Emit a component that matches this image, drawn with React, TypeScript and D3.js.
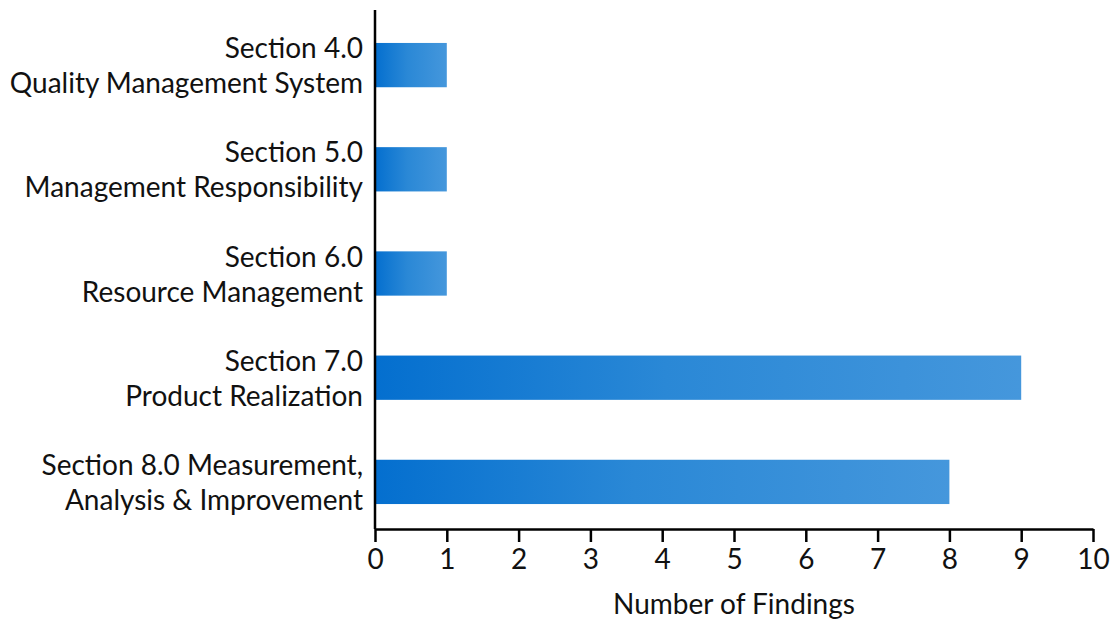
import React, { useEffect, useRef } from "react"
import * as d3 from "d3"

const categories: string[][] = [
  ["Section 4.0", "Quality Management System"],
  ["Section 5.0", "Management Responsibility"],
  ["Section 6.0", "Resource Management"],
  ["Section 7.0", "Product Realization"],
  ["Section 8.0 Measurement,", "Analysis & Improvement"],
]
const findings: number[] = [1, 1, 1, 9, 8]
const xTicks: number[] = [0, 1, 2, 3, 4, 5, 6, 7, 8, 9, 10]

const FONT = "Lato, 'Open Sans', sans-serif"

export default function App() {
  const ref = useRef<SVGSVGElement>(null)

  useEffect(() => {
    if (!ref.current) return
    const svg = d3.select(ref.current)
    svg.selectAll("*").remove()

    const x = d3.scaleLinear().domain([0, 10]).range([375, 1093])
    const y = d3
      .scaleBand<number>()
      .domain(d3.range(categories.length))
      .range([13, 534])
      .paddingInner(0.575)
      .paddingOuter(0.2875)

    const axisY = 529

    const defs = svg.append("defs")
    const grad = defs
      .append("linearGradient")
      .attr("id", "barGrad")
      .attr("x1", "0%")
      .attr("x2", "100%")
      .attr("y1", "0%")
      .attr("y2", "0%")
    grad.append("stop").attr("offset", "0%").attr("stop-color", "#046fcf")
    grad.append("stop").attr("offset", "45%").attr("stop-color", "#2a88d6")
    grad.append("stop").attr("offset", "100%").attr("stop-color", "#4597dc")

    // bars
    svg
      .append("g")
      .selectAll("rect")
      .data(findings)
      .join("rect")
      .attr("x", x(0))
      .attr("y", (_, i) => y(i)!)
      .attr("width", (d) => x(d) - x(0))
      .attr("height", y.bandwidth())
      .attr("fill", "url(#barGrad)")

    // category labels
    const labels = svg
      .append("g")
      .attr("font-family", FONT)
      .attr("font-size", 28)
      .attr("fill", "#111")
      .attr("text-anchor", "end")
    categories.forEach((lines, i) => {
      const cy = y(i)! + y.bandwidth() / 2
      lines.forEach((line, j) => {
        labels
          .append("text")
          .attr("x", 363)
          .attr("y", cy - 17 + j * 35 + 10)
          .text(line)
      })
    })

    // axes lines
    svg
      .append("line")
      .attr("x1", x(0))
      .attr("x2", x(0))
      .attr("y1", 10)
      .attr("y2", axisY)
      .attr("stroke", "#000")
      .attr("stroke-width", 2.5)

    const xAxis = svg
      .append("g")
      .attr("transform", `translate(0,${axisY})`)
      .call(d3.axisBottom(x).tickValues(xTicks).tickSize(13).tickPadding(7).tickSizeOuter(0))
    xAxis.select(".domain").attr("stroke", "#000").attr("stroke-width", 2.5)
    xAxis.selectAll(".tick line").attr("stroke", "#000").attr("stroke-width", 2.5)
    xAxis
      .selectAll(".tick text")
      .attr("font-family", FONT)
      .attr("font-size", 28)
      .attr("fill", "#111")

    svg
      .append("text")
      .attr("x", 734)
      .attr("y", 614)
      .attr("text-anchor", "middle")
      .attr("font-family", FONT)
      .attr("font-size", 28)
      .attr("fill", "#111")
      .text("Number of Findings")
  }, [])

  return (
    <svg
      ref={ref}
      width={1113}
      height={620}
      style={{ position: "absolute", left: 0, top: 0, background: "#fff" }}
    />
  )
}
